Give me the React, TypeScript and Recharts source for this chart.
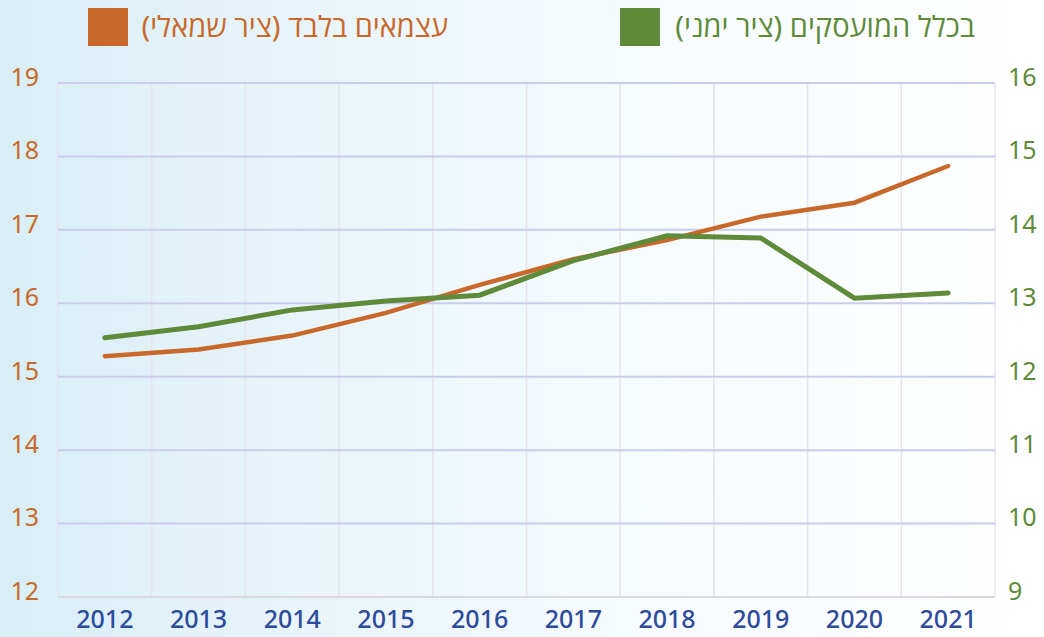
import { LineChart, Line, XAxis, YAxis, CartesianGrid } from 'recharts';

const years = ['2012', '2013', '2014', '2015', '2016', '2017', '2018', '2019', '2020', '2021'];
const selfEmployed = [15.28, 15.37, 15.56, 15.87, 16.25, 16.6, 16.86, 17.18, 17.37, 17.87];
const allEmployed = [12.53, 12.68, 12.91, 13.03, 13.11, 13.58, 13.92, 13.89, 13.07, 13.14];
const leftTicks = [12, 13, 14, 15, 16, 17, 18, 19];
const rightTicks = [9, 10, 11, 12, 13, 14, 15, 16];

const selfLabel = 'עצמאים בלבד (ציר שמאלי)';
const allLabel = 'בכלל המועסקים (ציר ימני)';

const ORANGE = '#C8692B';
const GREEN = '#5E8A3A';
const NAVY = '#2D4B9C';
const FONT = "'Noto Sans', 'Open Sans', 'DejaVu Sans', sans-serif";

const data = years.map((year, i) => ({
    year,
    self: selfEmployed[i],
    all: allEmployed[i],
}));

export default function App() {
    return (
        <div
            style={{
                position: 'absolute',
                left: 0,
                top: 0,
                width: 1044,
                height: 637,
                fontFamily: FONT,
                background: 'linear-gradient(to right, #d8eef6 0%, #e9f5fa 30%, #f6fbfd 60%, #ffffff 100%)',
            }}
        >
            {/* legend */}
            <div style={{ position: 'absolute', left: 88, top: 8, width: 40, height: 38, background: ORANGE }} />
            <div
                dir="rtl"
                style={{ position: 'absolute', right: 1044 - 448, top: 6, fontSize: 29, color: ORANGE, lineHeight: '40px', whiteSpace: 'nowrap' }}
            >
                {selfLabel}
            </div>
            <div style={{ position: 'absolute', left: 620, top: 8, width: 40, height: 38, background: GREEN }} />
            <div
                dir="rtl"
                style={{ position: 'absolute', right: 1044 - 975, top: 6, fontSize: 29, color: GREEN, lineHeight: '40px', whiteSpace: 'nowrap' }}
            >
                {allLabel}
            </div>

            <LineChart width={1044} height={637} data={data} margin={{ top: 83, right: 0, left: 0, bottom: 0 }}>
                <CartesianGrid
                    horizontal={false}
                    stroke="#E6E2F0"
                    strokeWidth={1.5}
                    yAxisId="left"
                    verticalCoordinatesGenerator={({ offset }: any) =>
                        Array.from({ length: years.length + 1 }, (_, i) => offset.left + (i * offset.width) / years.length)
                    }
                />
                <CartesianGrid vertical={false} stroke="#C9CCEE" strokeWidth={2} yAxisId="left" />
                <XAxis
                    dataKey="year"
                    scale="band"
                    height={40}
                    tickLine={false}
                    axisLine={{ stroke: '#D9D9DF', strokeWidth: 2 }}
                    tickMargin={7}
                    tick={{ fill: NAVY, fontSize: 25, fontWeight: 500, fontFamily: FONT }}
                    interval={0}
                />
                <YAxis
                    yAxisId="left"
                    width={58}
                    domain={[12, 19]}
                    ticks={leftTicks}
                    axisLine={false}
                    tickLine={false}
                    tickMargin={13}
                    tick={{ fill: ORANGE, fontSize: 25, fontFamily: FONT, dy: -6 }}
                />
                <YAxis
                    yAxisId="right"
                    orientation="right"
                    width={49}
                    domain={[9, 16]}
                    ticks={rightTicks}
                    axisLine={false}
                    tickLine={false}
                    tickMargin={7}
                    tick={{ fill: GREEN, fontSize: 25, fontFamily: FONT, dy: -6, textAnchor: 'start' }}
                />
                <Line
                    yAxisId="left"
                    type="linear"
                    dataKey="self"
                    stroke={ORANGE}
                    strokeWidth={4.5}
                    strokeLinecap="round"
                    dot={false}
                    isAnimationActive={false}
                />
                <Line
                    yAxisId="right"
                    type="linear"
                    dataKey="all"
                    stroke={GREEN}
                    strokeWidth={5}
                    strokeLinecap="round"
                    dot={false}
                    isAnimationActive={false}
                />
            </LineChart>
        </div>
    );
}
